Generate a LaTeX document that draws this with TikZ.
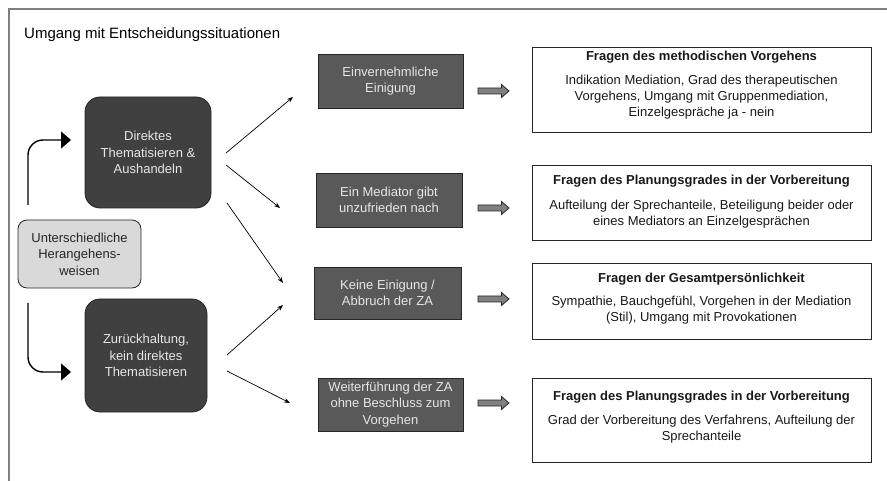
\documentclass[tikz,border=0pt]{standalone}
\usepackage{fontspec}
\setmainfont{Liberation Sans}
\usetikzlibrary{arrows.meta}
\definecolor{darkbox}{HTML}{404040}
\definecolor{midbox}{HTML}{595959}
\definecolor{lightbox}{HTML}{D9D9D9}
\definecolor{edge}{HTML}{262626}
\definecolor{frame}{HTML}{808080}
\definecolor{lighttext}{HTML}{E6E6E6}
\tikzset{
  base/.style={font=\fontsize{13}{16.5}\selectfont, align=center, inner sep=0pt},
  darkrnd/.style={base, draw=edge, fill=darkbox, text=lighttext, rounded corners=15pt, line width=0.8pt},
  lightrnd/.style={base, draw=edge, fill=lightbox, text=edge, rounded corners=9pt, line width=0.8pt},
  midrect/.style={base, draw=edge, fill=midbox, text=lighttext, line width=0.8pt},
  rightrect/.style={draw=edge, fill=white, line width=0.8pt, minimum width=339pt, inner sep=0pt},
  rtitle/.style={base, font=\fontsize{13}{16}\bfseries\selectfont, text=black!90},
  rbody/.style={base, font=\fontsize{13}{16}\selectfont, text=black!90},
  thinarrow/.style={-{Stealth[length=6pt,width=4.5pt]}, line width=0.7pt, black},
  bigarrow/.style={-{Triangle[length=10pt,width=17pt]}, line width=1.4pt, black, rounded corners=15pt},
  blkstyle/.style={draw=edge, fill=frame, line width=0.8pt, line join=miter},
  blkarrow/.pic={\draw[blkstyle] (-15.5,-3) -- (8,-3) -- (8,-6.5) -- (15.5,0) -- (8,6.5) -- (8,3) -- (-15.5,3) -- cycle;}
}
\begin{document}
\begin{tikzpicture}[x=1pt,y=-1pt]
\useasboundingbox (0,0) rectangle (887,481);
% outer frame
\draw[frame, line width=1.5pt] (9,481) -- (9,9) -- (887,9);
\node[anchor=west, font=\fontsize{15}{18}\selectfont, inner sep=0pt] (title) at (24,35) {Umgang mit Entscheidungssituationen};

% left boxes
\node[darkrnd, minimum width=126pt, minimum height=111pt] (dir) at (148,152.5) {Direktes\\Thematisieren \&\\Aushandeln};
\node[lightrnd, minimum width=123pt, minimum height=68pt] (u) at (79.5,254) {Unterschiedliche\\Herangehens-\\weisen};
\node[darkrnd, minimum width=122pt, minimum height=113pt] (zur) at (146,355.5) {Zurückhaltung,\\kein direktes\\Thematisieren};

% middle boxes
\node[midrect, minimum width=145pt, minimum height=54pt] (A) at (390.5,81) {Einvernehmliche\\Einigung};
\node[midrect, minimum width=146pt, minimum height=54pt] (B) at (389,200) {Ein Mediator gibt\\unzufrieden nach};
\node[midrect, minimum width=147pt, minimum height=52pt] (C) at (387.5,293) {Keine Einigung /\\Abbruch der ZA};
\node[midrect, minimum width=145pt, minimum height=53pt] (D) at (390.5,404.5) {Weiterführung der ZA\\ohne Beschluss zum\\Vorgehen};

% block arrows
\coordinate (pa) at (493.5,91);
\coordinate (pb) at (493.5,208);
\coordinate (pc) at (493.5,299);
\coordinate (pd) at (493.5,403);
\pic at (pa) {blkarrow};
\pic at (pb) {blkarrow};
\pic at (pc) {blkarrow};
\pic at (pd) {blkarrow};

% right boxes
\node[rightrect, minimum height=85pt] (R1) at (701.5,89.5) {};
\node[rtitle] (t1) at (701.5,57) {Fragen des methodischen Vorgehens};
\node[rbody] (b1) at (701.5,97) {Indikation Mediation, Grad des therapeutischen\\Vorgehens, Umgang mit Gruppenmediation,\\Einzelgespräche ja - nein};

\node[rightrect, minimum height=75pt] (R2) at (701.5,202.5) {};
\node[rtitle] (t2) at (701.5,181) {Fragen des Planungsgrades in der Vorbereitung};
\node[rbody] (b2) at (701.5,214) {Aufteilung der Sprechanteile, Beteiligung beider oder\\eines Mediators an Einzelgesprächen};

\node[rightrect, minimum height=76pt] (R3) at (701.5,301) {};
\node[rtitle] (t3) at (701.5,279) {Fragen der Gesamtpersönlichkeit};
\node[rbody] (b3) at (701.5,310) {Sympathie, Bauchgefühl, Vorgehen in der Mediation\\(Stil), Umgang mit Provokationen};

\node[rightrect, minimum height=84pt] (R4) at (701.5,420) {};
\node[rtitle] (t4) at (701.5,397) {Fragen des Planungsgrades in der Vorbereitung};
\node[rbody] (b4) at (701.5,429) {Grad der Vorbereitung des Verfahrens, Aufteilung der\\Sprechanteile};

% curved arrows from the light box
\coordinate (us) at (28,205);
\coordinate (ue) at (71,140);
\coordinate (ds) at (28,303);
\coordinate (de) at (71,372);
\draw[bigarrow] (us) -- (28,140) -- (ue);
\draw[bigarrow] (ds) -- (28,372) -- (de);

% thin arrows
\coordinate (s1) at (226,153);
\coordinate (e1) at (293,97);
\coordinate (s2) at (226,165);
\coordinate (e2) at (280,208);
\coordinate (s3) at (227,203);
\coordinate (e3) at (283,283);
\coordinate (s4) at (227,355);
\coordinate (e4) at (283,305);
\coordinate (s5) at (227,371);
\coordinate (e5) at (290,403);
\draw[thinarrow] (s1) -- (e1);
\draw[thinarrow] (s2) -- (e2);
\draw[thinarrow] (s3) -- (e3);
\draw[thinarrow] (s4) -- (e4);
\draw[thinarrow] (s5) -- (e5);
\end{tikzpicture}
\end{document}
